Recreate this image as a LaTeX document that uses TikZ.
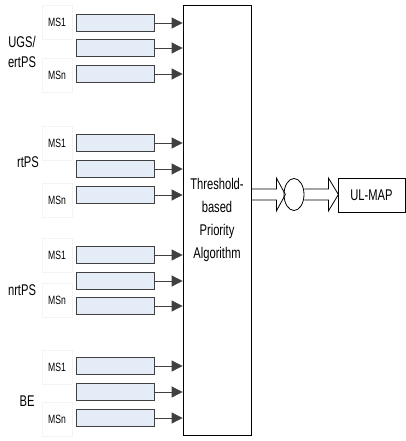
\documentclass[tikz,border=0pt]{standalone}
\usepackage{fontspec}
\setmainfont{Liberation Sans}[FakeStretch=0.72]
\usepackage{xcolor}
\usetikzlibrary{shapes,arrows.meta,positioning,calc}

\definecolor{queuefill}{HTML}{E4ECF7}
\definecolor{queueline}{HTML}{404040}
\definecolor{lblline}{HTML}{F4F4F4}

\tikzset{
  queue/.style={draw=queueline, fill=queuefill, line width=0.8pt, minimum width=78pt, minimum height=17pt, inner sep=0pt},
  mslbl/.style={draw=lblline, fill=white, minimum width=30pt, minimum height=34pt, inner sep=0pt, font=\fontsize{12}{14}\selectfont},
  grplbl/.style={align=center, inner sep=0pt, font=\fontsize{15.5}{20}\selectfont},
  feed/.style={draw=queueline, line width=0.8pt, -{Triangle[length=11pt,width=11pt]}},
}

\begin{document}
\begin{tikzpicture}[x=1pt, y=-1pt, every node/.style={font=\fontsize{15.5}{22.7}\selectfont}]
            \useasboundingbox (0,0) rectangle (406,441);
            % scheduler
            \node[draw, line width=0.8pt, minimum width=68pt, minimum height=430pt, align=center] (algo) at (217,220) {Threshold-\\based\\Priority\\Algorithm};
            % UGS/ertPS
            \node[grplbl] (ugs) at (22,52) {UGS/\\ertPS};
            \node[mslbl] (ugsA) at (57,22) {MS1};
            \node[mslbl] (ugsN) at (57,75) {MSn};
            \node[queue] (q11) at (115,23) {};
            \node[queue] (q12) at (115,48) {};
            \node[queue] (q13) at (115,74) {};
            % rtPS
            \node[grplbl] (rt) at (28,162) {rtPS};
            \node[mslbl] (rtA) at (57,143) {MS1};
            \node[mslbl] (rtN) at (57,200) {MSn};
            \node[queue] (q21) at (115,143) {};
            \node[queue] (q22) at (115,169) {};
            \node[queue] (q23) at (115,195) {};
            % nrtPS
            \node[grplbl] (nrt) at (22,290) {nrtPS};
            \node[mslbl] (nrtA) at (57,255) {MS1};
            \node[mslbl] (nrtN) at (57,300) {MSn};
            \node[queue] (q31) at (115,255) {};
            \node[queue] (q32) at (115,281) {};
            \node[queue] (q33) at (115,306) {};
            % BE
            \node[grplbl] (be) at (27,401) {BE};
            \node[mslbl] (beA) at (57,367) {MS1};
            \node[mslbl] (beN) at (57,419) {MSn};
            \node[queue] (q41) at (115,366) {};
            \node[queue] (q42) at (115,392) {};
            \node[queue] (q43) at (115,418) {};
            % feeds into the scheduler
            \draw[feed] (q11.east) -- (q11.east -| algo.west);
            \draw[feed] (q12.east) -- (q12.east -| algo.west);
            \draw[feed] (q13.east) -- (q13.east -| algo.west);
            \draw[feed] (q21.east) -- (q21.east -| algo.west);
            \draw[feed] (q22.east) -- (q22.east -| algo.west);
            \draw[feed] (q23.east) -- (q23.east -| algo.west);
            \draw[feed] (q31.east) -- (q31.east -| algo.west);
            \draw[feed] (q32.east) -- (q32.east -| algo.west);
            \draw[feed] (q33.east) -- (q33.east -| algo.west);
            \draw[feed] (q41.east) -- (q41.east -| algo.west);
            \draw[feed] (q42.east) -- (q42.east -| algo.west);
            \draw[feed] (q43.east) -- (q43.east -| algo.west);
            % output
            \node[draw, ellipse, line width=0.8pt, minimum width=20pt, minimum height=32pt, inner sep=0pt] (mux) at (294,194.5) {};
            \node[draw, line width=0.8pt, minimum width=67pt, minimum height=34pt] (ulmap) at (371.5,195) {UL-MAP};
            \draw[line width=0.8pt] (algo.east |- mux) ++(0,-5.5) -- ++(25,0) -- ++(0,-11) -- ++(9,16.5) -- ++(-9,16.5) -- ++(0,-11) -- ++(-25,0);
            \draw[line width=0.8pt] (mux.east) ++(0,-5.5) -- ++(24,0) -- ++(0,-11) -- ++(10,16.5) -- ++(-10,16.5) -- ++(0,-11) -- ++(-24,0);
        \end{tikzpicture}
\end{document}
